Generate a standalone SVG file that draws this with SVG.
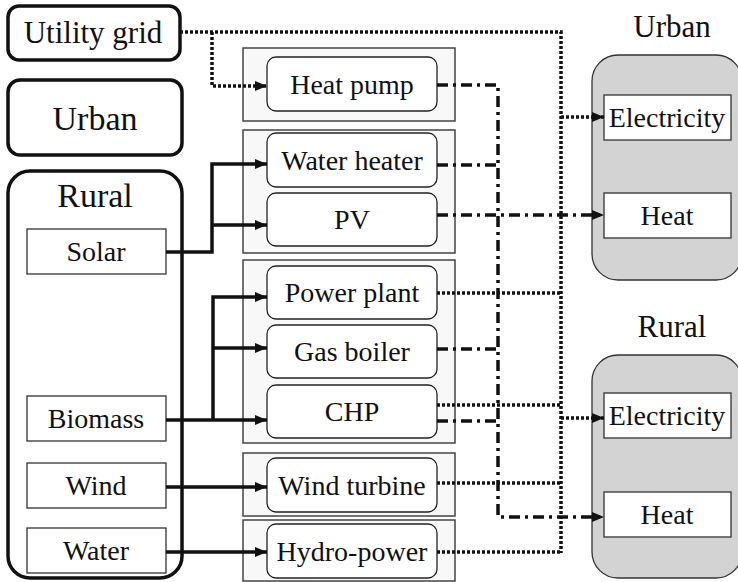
<svg xmlns="http://www.w3.org/2000/svg" width="738" height="582" viewBox="0 0 738 582" font-family="'Liberation Serif', 'DejaVu Serif', serif">
<defs>
<style>
text{font-family:'Liberation Serif','DejaVu Serif',serif;fill:#111;text-anchor:middle}
.t28{font-size:28px}
.t31{font-size:31px}
.t34{font-size:34px}
.thick{fill:#fff;stroke:#111;stroke-width:3.5}
.grp{fill:#f8f8f8;stroke:#444;stroke-width:1.5}
.node{fill:#fff;stroke:#222;stroke-width:1.3}
.box{fill:#fff;stroke:#333;stroke-width:1.3}
.sink{fill:#d3d3d3;stroke:#333;stroke-width:1.3}
.solid{fill:none;stroke:#111;stroke-width:3.5}
.dot{fill:none;stroke:#111;stroke-width:3.5;stroke-dasharray:3 2}
.dd{fill:none;stroke:#111;stroke-width:3.5;stroke-dasharray:11 5 3 5}
</style>
<marker id="ah" markerUnits="userSpaceOnUse" viewBox="0 0 12 10" markerWidth="12" markerHeight="10" refX="12" refY="5" orient="auto">
<path d="M0,0 L12,5 L0,10 z" fill="#111"/>
</marker>
</defs>
<rect width="738" height="582" fill="#fff"/>

<g id="utility-grid"><rect class="thick" x="8" y="6" width="172" height="54" rx="11"/><text class="t31" x="93" y="43">Utility grid</text></g>
<g id="urban-left"><rect class="thick" x="8" y="80" width="174" height="75" rx="12"/><text class="t34" x="95" y="130">Urban</text></g>
<g id="rural-left"><rect class="thick" x="8" y="171" width="174" height="407" rx="22"/><text class="t34" x="95" y="207">Rural</text></g>
<g id="solar"><rect class="box" x="27" y="229" width="139" height="45"/><text class="t28" x="96" y="261">Solar</text></g>
<g id="biomass"><rect class="box" x="27" y="396" width="139" height="45"/><text class="t28" x="96" y="428">Biomass</text></g>
<g id="wind"><rect class="box" x="27" y="463" width="139" height="45"/><text class="t28" x="96" y="495">Wind</text></g>
<g id="water"><rect class="box" x="27" y="528" width="139" height="45"/><text class="t28" x="96" y="560">Water</text></g>

<g id="group-heatpump"><rect class="grp" x="243" y="48" width="212" height="73"/></g>
<g id="group-solar"><rect class="grp" x="243" y="130" width="212" height="123"/></g>
<g id="group-fuel"><rect class="grp" x="243" y="260" width="212" height="183"/></g>
<g id="group-wind"><rect class="grp" x="243" y="453" width="212" height="63"/></g>
<g id="group-hydro"><rect class="grp" x="243" y="520" width="212" height="61"/></g>

<g id="heat-pump"><rect class="node" x="267" y="57" width="170" height="54" rx="9"/><text class="t28" x="352" y="94">Heat pump</text></g>
<g id="water-heater"><rect class="node" x="267" y="133" width="170" height="54" rx="9"/><text class="t28" x="352" y="170">Water heater</text></g>
<g id="pv"><rect class="node" x="267" y="193" width="170" height="53" rx="9"/><text class="t28" x="352" y="229">PV</text></g>
<g id="power-plant"><rect class="node" x="267" y="266" width="170" height="53" rx="9"/><text class="t28" x="352" y="302">Power plant</text></g>
<g id="gas-boiler"><rect class="node" x="267" y="325" width="170" height="53" rx="9"/><text class="t28" x="352" y="361">Gas boiler</text></g>
<g id="chp"><rect class="node" x="267" y="385" width="170" height="53" rx="9"/><text class="t28" x="352" y="421">CHP</text></g>
<g id="wind-turbine"><rect class="node" x="267" y="458" width="170" height="54" rx="9"/><text class="t28" x="352" y="495">Wind turbine</text></g>
<g id="hydro-power"><rect class="node" x="267" y="524" width="170" height="54" rx="9"/><text class="t28" x="352" y="561">Hydro-power</text></g>

<g id="urban-sink"><text class="t31" x="672" y="37">Urban</text><rect class="sink" x="592" y="55" width="150" height="225" rx="26"/></g>
<g id="urban-electricity"><rect class="box" x="604" y="95" width="127" height="45"/><text class="t28" x="667" y="127">Electricity</text></g>
<g id="urban-heat"><rect class="box" x="604" y="193" width="127" height="45"/><text class="t28" x="667" y="225">Heat</text></g>
<g id="rural-sink"><text class="t31" x="672" y="337">Rural</text><rect class="sink" x="592" y="355" width="150" height="223" rx="26"/></g>
<g id="rural-electricity"><rect class="box" x="604" y="393" width="127" height="45"/><text class="t28" x="667" y="425">Electricity</text></g>
<g id="rural-heat"><rect class="box" x="604" y="492" width="127" height="45"/><text class="t28" x="667" y="524">Heat</text></g>

<g id="connectors">
<path class="solid" d="M166,252 H212 V164 H267" marker-end="url(#ah)"/>
<path class="solid" d="M212,225 H267" marker-end="url(#ah)"/>
<path class="solid" d="M166,420 H267" marker-end="url(#ah)"/>
<path class="solid" d="M213,420 V297 H267" marker-end="url(#ah)"/>
<path class="solid" d="M213,348 H267" marker-end="url(#ah)"/>
<path class="solid" d="M166,487 H267" marker-end="url(#ah)"/>
<path class="solid" d="M166,552 H267" marker-end="url(#ah)"/>

<path class="dot" d="M180,32 H561 V553"/>
<path class="dot" d="M212,32 V86 H267" marker-end="url(#ah)"/>
<path class="dot" d="M437,293 H561"/>
<path class="dot" d="M437,405 H561"/>
<path class="dot" d="M437,483 H561"/>
<path class="dot" d="M437,552 H561"/>
<path class="dot" d="M561,117 H604" marker-end="url(#ah)"/>
<path class="dot" d="M561,418 H604" marker-end="url(#ah)"/>

<path class="dd" d="M437,85 H498 V517 H604" marker-end="url(#ah)"/>
<path class="dd" d="M437,165 H498"/>
<path class="dd" d="M437,349 H498"/>
<path class="dd" d="M437,421 H498"/>
<path class="dd" d="M437,215 H604" marker-end="url(#ah)"/>
</g>
</svg>
